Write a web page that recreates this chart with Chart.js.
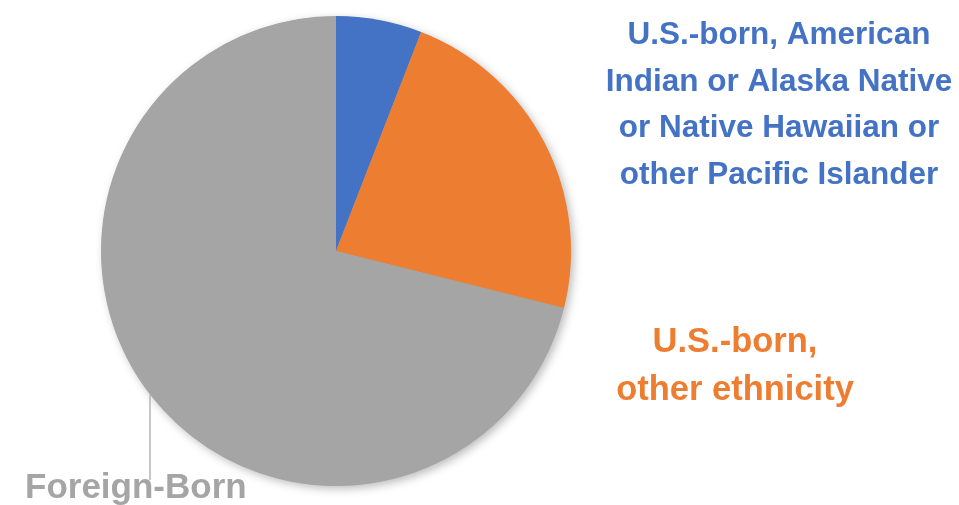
<!DOCTYPE html>
<html>
<head>
<meta charset="utf-8">
<script src="https://cdn.jsdelivr.net/npm/chart.js@4/dist/chart.umd.min.js"></script>
<style>
html,body{margin:0;padding:0;background:#fff;}
#wrap{width:959px;height:505px;}
</style>
</head>
<body>
<div id="wrap"><canvas id="c" width="959" height="505"></canvas></div>
<script>
const categories = [
  "U.S.-born, American Indian or Alaska Native or Native Hawaiian or other Pacific Islander",
  "U.S.-born, other ethnicity",
  "Foreign-Born"
];
const shares = [5.9, 23.0, 71.1];
const sliceColors = ["#4472C4", "#ED7D31", "#A5A5A5"];
const labelLines = [
  ["U.S.-born, American", "Indian or Alaska Native", "or Native Hawaiian or", "other Pacific Islander"],
  ["U.S.-born,", "other ethnicity"],
  ["Foreign-Born"]
];

const FONT = '"Liberation Sans", Arial, Helvetica, sans-serif';

const shadowPlugin = {
  id: 'pieShadow',
  beforeDatasetsDraw(chart) {
    const arc = chart.getDatasetMeta(0).data[0];
    if (!arc) return;
    const ctx = chart.ctx;
    ctx.save();
    ctx.shadowColor = 'rgba(0,0,0,0.28)';
    ctx.shadowBlur = 10;
    ctx.shadowOffsetX = 3;
    ctx.shadowOffsetY = 3;
    ctx.fillStyle = '#A5A5A5';
    ctx.beginPath();
    ctx.arc(arc.x, arc.y, arc.outerRadius - 0.5, 0, Math.PI * 2);
    ctx.fill();
    ctx.restore();
  }
};

const labelPlugin = {
  id: 'sliceLabels',
  afterDatasetsDraw(chart) {
    const meta = chart.getDatasetMeta(0);
    const a = meta.data[0];
    const cx = a.x, cy = a.y, r = a.outerRadius;
    const ctx = chart.ctx;
    ctx.save();
    ctx.textBaseline = 'alphabetic';

    // blue label
    ctx.fillStyle = sliceColors[0];
    ctx.font = 'bold 31.5px ' + FONT;
    ctx.textAlign = 'center';
    labelLines[0].forEach((t, i) => ctx.fillText(t, cx + 443, cy - 207 + i * 46.5));

    // orange label
    ctx.fillStyle = sliceColors[1];
    ctx.font = 'bold 34.5px ' + FONT;
    labelLines[1].forEach((t, i) => ctx.fillText(t, cx + 399, cy + 101 + i * 48));

    // gray label with leader line
    const lx = cx - 186;
    const ly = cy + Math.sqrt(r * r - 186 * 186);
    ctx.strokeStyle = '#B4B4B4';
    ctx.lineWidth = 1.5;
    ctx.beginPath();
    ctx.moveTo(lx, ly);
    ctx.lineTo(lx, cy + 229);
    ctx.stroke();
    ctx.fillStyle = sliceColors[2];
    ctx.font = 'bold 35px ' + FONT;
    ctx.textAlign = 'left';
    labelLines[2].forEach((t, i) => ctx.fillText(t, cx - 311, cy + 247 + i * 48));
    ctx.restore();
  }
};

new Chart(document.getElementById('c'), {
  type: 'pie',
  data: {
    labels: categories,
    datasets: [{
      data: shares,
      backgroundColor: sliceColors,
      borderWidth: 0,
      hoverOffset: 0
    }]
  },
  options: {
    responsive: false,
    animation: false,
    events: [],
    layout: { padding: { left: 101, right: 388, top: 16, bottom: 19 } },
    plugins: {
      legend: { display: false },
      tooltip: { enabled: false }
    }
  },
  plugins: [shadowPlugin, labelPlugin]
});
</script>
</body>
</html>
